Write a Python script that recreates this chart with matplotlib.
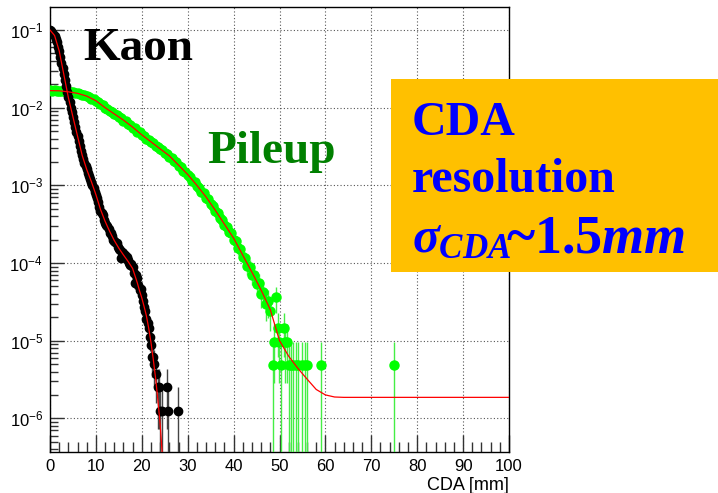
import numpy as np
import matplotlib
matplotlib.use('Agg')
import matplotlib.pyplot as plt
from matplotlib.ticker import LogLocator, MultipleLocator, NullFormatter
from matplotlib.patches import Rectangle

plt.rcParams['font.family'] = ['Liberation Sans', 'DejaVu Sans']
plt.rcParams['mathtext.rm'] = 'Liberation Serif:bold'
plt.rcParams['mathtext.it'] = 'Liberation Serif:italic:bold'
plt.rcParams['mathtext.bf'] = 'Liberation Serif:bold'

# ---------------- data ----------------
kaon_x = [0.0, 0.25, 0.5, 0.75, 1.0, 1.25, 1.5, 1.75, 2.0, 2.25, 2.5, 2.75,
          3.0, 3.25, 3.5, 3.75, 4.0, 4.25, 4.5, 4.75, 5.0, 5.25, 5.5, 5.75,
          6.0, 6.25, 6.5, 6.75, 7.0, 7.25, 7.5, 7.75, 8.0, 8.25, 8.5, 8.75,
          9.0, 9.25, 9.5, 9.75, 10.0, 10.25, 10.5, 10.75, 11.0, 11.25, 11.5, 11.75,
          12.0, 12.25, 12.5, 12.75, 13.0, 13.25, 13.5, 13.75, 14.0, 14.25, 14.5, 14.75,
          15.0, 15.25, 15.5, 15.75, 16.0, 16.25, 16.5, 16.75, 17.0, 17.25, 17.5, 17.75,
          18.0, 18.25, 18.5, 18.75, 19.0, 19.25, 19.5, 19.75, 20.0, 20.25, 20.5, 20.75,
          21.0, 21.25, 21.5, 21.75, 22.0, 22.25, 22.5, 22.75, 23.0, 23.5, 23.8, 24.0,
          24.5, 25.4, 25.6, 27.8]
kaon_y = [9.9e-2, 9.6e-2, 9.2e-2, 8.8e-2, 8.4e-2, 7.7e-2, 7.0e-2, 6.1e-2, 5.3e-2, 4.5e-2, 3.8e-2, 3.2e-2,
          2.75e-2, 2.3e-2, 1.9e-2, 1.6e-2, 1.38e-2, 1.17e-2, 1.0e-2, 8.7e-3, 7.5e-3, 6.5e-3, 5.7e-3, 4.9e-3,
          4.3e-3, 3.75e-3, 3.25e-3, 2.8e-3, 2.45e-3, 2.2e-3, 1.95e-3, 1.75e-3, 1.6e-3, 1.45e-3, 1.32e-3, 1.2e-3,
          1.1e-3, 1.0e-3, 9.2e-4, 8.3e-4, 7.5e-4, 6.8e-4, 6.1e-4, 5.3e-4, 4.7e-4, 4.4e-4, 4.1e-4, 3.6e-4,
          3.3e-4, 3.1e-4, 3.0e-4, 2.7e-4, 2.45e-4, 2.4e-4, 2.25e-4, 2.0e-4, 1.9e-4, 1.85e-4, 1.8e-4, 1.6e-4,
          1.5e-4, 1.45e-4, 1.15e-4, 1.4e-4, 1.35e-4, 1.25e-4, 1.15e-4, 1.2e-4, 1.1e-4, 1.0e-4, 9.5e-5, 9.8e-5,
          8.8e-5, 7.5e-5, 5.5e-5, 7.0e-5, 6.5e-5, 5.2e-5, 4.5e-5, 4.6e-5, 3.9e-5, 3.2e-5, 2.7e-5, 2.4e-5,
          1.9e-5, 1.7e-5, 1.45e-5, 1.1e-5, 8.8e-6, 6.2e-6, 6.2e-6, 5.0e-6, 3.75e-6, 2.5e-6, 2.5e-6, 1.25e-6,
          1.25e-6, 2.5e-6, 1.25e-6, 1.25e-6]
kaon_unit = 1.25e-6

pile_x = [0.0, 0.5, 1.0, 1.5, 2.0, 2.5, 3.0, 3.5, 4.0, 4.5,
          5.0, 5.5, 6.0, 6.5, 7.0, 7.5, 8.0, 8.5, 9.0, 9.5,
          10.0, 10.5, 11.0, 11.5, 12.0, 12.5, 13.0, 13.5, 14.0, 14.5,
          15.0, 15.5, 16.0, 16.5, 17.0, 17.5, 18.0, 18.5, 19.0, 19.5,
          20.0, 20.5, 21.0, 21.5, 22.0, 22.5, 23.0, 23.5, 24.0, 24.5,
          25.0, 25.5, 26.0, 26.5, 27.0, 27.5, 28.0, 28.5, 29.0, 29.5,
          30.0, 30.5, 31.0, 31.5, 32.0, 32.5, 33.0, 33.5, 34.0, 34.5,
          35.0, 35.5, 36.0, 36.5, 37.0, 37.5, 38.0, 38.5, 39.0, 39.5,
          40.0, 40.5, 41.0, 41.5, 42.0, 42.5, 43.0, 43.5, 44.0, 44.5,
          45.0, 45.5, 46.0, 46.5, 47.0, 47.5, 48.0,
          48.5, 48.8, 49.3, 49.7, 49.9, 50.3, 51.0, 51.3, 51.7, 52.0,
          52.5, 53.0, 53.5, 54.0, 55.0, 55.5, 56.0, 59.0, 74.9]
pile_y = [1.68e-2, 1.66e-2, 1.67e-2, 1.64e-2, 1.65e-2, 1.63e-2, 1.62e-2, 1.61e-2, 1.60e-2, 1.57e-2,
          1.58e-2, 1.54e-2, 1.53e-2, 1.51e-2, 1.47e-2, 1.45e-2, 1.40e-2, 1.37e-2, 1.31e-2, 1.28e-2,
          1.22e-2, 1.18e-2, 1.10e-2, 1.07e-2, 1.00e-2, 9.6e-3, 9.0e-3, 8.8e-3, 8.2e-3, 8.0e-3,
          7.5e-3, 7.3e-3, 6.8e-3, 6.7e-3, 6.2e-3, 6.0e-3, 5.5e-3, 5.4e-3, 4.9e-3, 4.8e-3,
          4.4e-3, 4.3e-3, 4.0e-3, 3.85e-3, 3.6e-3, 3.5e-3, 3.2e-3, 3.15e-3, 2.9e-3, 2.85e-3,
          2.6e-3, 2.55e-3, 2.35e-3, 2.28e-3, 2.05e-3, 1.98e-3, 1.80e-3, 1.72e-3, 1.55e-3, 1.50e-3,
          1.36e-3, 1.28e-3, 1.15e-3, 1.10e-3, 9.8e-4, 9.3e-4, 8.2e-4, 7.9e-4, 6.9e-4, 6.6e-4,
          5.7e-4, 5.4e-4, 4.7e-4, 4.4e-4, 3.8e-4, 3.6e-4, 3.1e-4, 2.9e-4, 2.5e-4, 2.4e-4,
          2.0e-4, 1.9e-4, 1.55e-4, 1.5e-4, 1.2e-4, 1.15e-4, 9.2e-5, 9.0e-5, 7.0e-5, 7.0e-5,
          5.4e-5, 5.5e-5, 4.0e-5, 4.2e-5, 3.0e-5, 3.2e-5, 2.4e-5,
          4.8e-6, 9.6e-6, 3.6e-5, 1.44e-5, 9.6e-6, 4.8e-6, 1.44e-5, 9.6e-6, 9.6e-6, 4.8e-6,
          4.8e-6, 4.8e-6, 4.8e-6, 4.8e-6, 4.8e-6, 4.8e-6, 4.8e-6, 4.8e-6, 4.8e-6]
pile_unit = 4.8e-6

kaon_fit_x = [0, 1, 2, 3, 4, 5, 6, 7, 8, 9, 10, 11, 12, 13, 14, 15, 16, 17, 18, 19,
              19.5, 20, 20.5, 21, 21.5, 22, 22.5, 23, 23.5, 24, 24.5]
kaon_fit_y = [1.0e-1, 8.5e-2, 5.4e-2, 2.7e-2, 1.35e-2, 7.6e-3, 4.3e-3, 2.45e-3, 1.6e-3, 1.12e-3,
              7.6e-4, 4.9e-4, 3.45e-4, 2.55e-4, 1.95e-4, 1.55e-4, 1.27e-4, 1.05e-4, 8.5e-5, 5.6e-5,
              4.4e-5, 3.55e-5, 2.75e-5, 2.09e-5, 1.45e-5, 9.5e-6, 5.75e-6, 3.3e-6, 1.74e-6, 8.3e-7, 3.2e-7]

pile_fit_x = [0, 2, 4, 6, 8, 10, 12, 14, 16, 18, 20, 22, 24, 26, 28, 30, 32, 34, 36, 38,
              40, 42, 44, 46, 48, 50, 52, 54, 56, 58, 60, 62, 64, 100]
pile_fit_y = [1.66e-2, 1.65e-2, 1.60e-2, 1.53e-2, 1.41e-2, 1.23e-2, 1.00e-2, 8.32e-3, 6.92e-3, 5.62e-3,
              4.47e-3, 3.63e-3, 2.95e-3, 2.40e-3, 1.82e-3, 1.38e-3, 1.00e-3, 7.08e-4, 4.79e-4, 3.16e-4,
              2.09e-4, 1.26e-4, 7.59e-5, 4.47e-5, 2.5e-5, 1.0e-5, 6.3e-6, 4.4e-6, 3.2e-6, 2.35e-6,
              2.0e-6, 1.88e-6, 1.86e-6, 1.86e-6]

x_ticks = [0, 10, 20, 30, 40, 50, 60, 70, 80, 90, 100]
x_label = 'CDA [mm]'

# ---------------- figure ----------------
W, H = 718, 493
fig = plt.figure(figsize=(W / 100, H / 100), dpi=100)
ax = fig.add_axes([50 / W, 41 / H, 459 / W, 445 / H])
ax.set_yscale('log')
ax.set_xlim(0, 100)
ax.set_ylim(3.68e-7, 0.198)


def errs(y, unit):
    y = np.asarray(y)
    e = np.sqrt(y * unit)
    lo = np.minimum(e, y - 1e-12)
    return np.vstack([lo, e])


ax.errorbar(pile_x, pile_y, yerr=errs(pile_y, pile_unit), fmt='o', ms=6.5,
            color='#00ff00', mec='#00ff00', ecolor='#44ee44', elinewidth=1.0,
            capsize=0, zorder=3)
ax.errorbar(kaon_x, kaon_y, yerr=errs(kaon_y, kaon_unit), fmt='o', ms=6,
            color='black', mec='black', ecolor='#444444', elinewidth=1.0,
            capsize=0, zorder=4)
ax.plot(pile_fit_x, pile_fit_y, color='red', lw=0.9, zorder=5)
ax.plot(kaon_fit_x, kaon_fit_y, color='red', lw=0.9, zorder=5)

ax.set_xticks(x_ticks)
ax.xaxis.set_minor_locator(MultipleLocator(2))
ax.yaxis.set_major_locator(LogLocator(base=10, numticks=15))
ax.yaxis.set_minor_locator(LogLocator(base=10, subs=np.arange(2, 10), numticks=15))
ax.yaxis.set_minor_formatter(NullFormatter())
ax.tick_params(axis='both', which='both', direction='in', color='#333333',
               width=1.0, labelsize=12, top=False, right=False)
ax.tick_params(axis='x', which='major', length=12, pad=5)
ax.tick_params(axis='x', which='minor', length=7)
ax.tick_params(axis='y', which='major', length=10, pad=5)
ax.tick_params(axis='y', which='minor', length=6)
ax.grid(True, which='major', linestyle=(0, (1, 2)), color='#555555', lw=0.8)
ax.set_axisbelow(True)
for s in ax.spines.values():
    s.set_linewidth(1.0)
    s.set_color('black')

ax.set_xlabel(x_label, fontsize=13, loc='right', labelpad=2)

# annotations
fig.text(83 / W, 1 - 60 / H, 'Kaon', family='Liberation Serif', weight='bold',
         fontsize=34, color='black', va='baseline', ha='left')
fig.text(207 / W, 1 - 163 / H, 'Pileup', family='Liberation Serif', weight='bold',
         fontsize=34, color='#008000', va='baseline', ha='left')

box = Rectangle((391 / W, 1 - 272 / H), 327 / W, 193 / H, transform=fig.transFigure,
                facecolor='#FFC000', edgecolor='none', zorder=10)
fig.add_artist(box)
for txt, yb in [('CDA', 135), ('resolution', 192)]:
    fig.text(412 / W, 1 - yb / H, txt, family='Liberation Serif', weight='bold',
             fontsize=34.5, color='#0000ff', va='baseline', ha='left', zorder=11)
fig.text(412 / W, 1 - 252 / H, r'$\sigma_{CDA}$', family='Liberation Serif',
         weight='bold', fontsize=36, color='#0000ff', va='baseline', ha='left',
         math_fontfamily='custom', zorder=11)
fig.text(506 / W, 1 - 252 / H, r'~1.5$mm$', family='Liberation Serif',
         weight='bold', fontsize=39, color='#0000ff', va='baseline', ha='left',
         math_fontfamily='custom', zorder=11)

fig.savefig('out.png', dpi=100)
